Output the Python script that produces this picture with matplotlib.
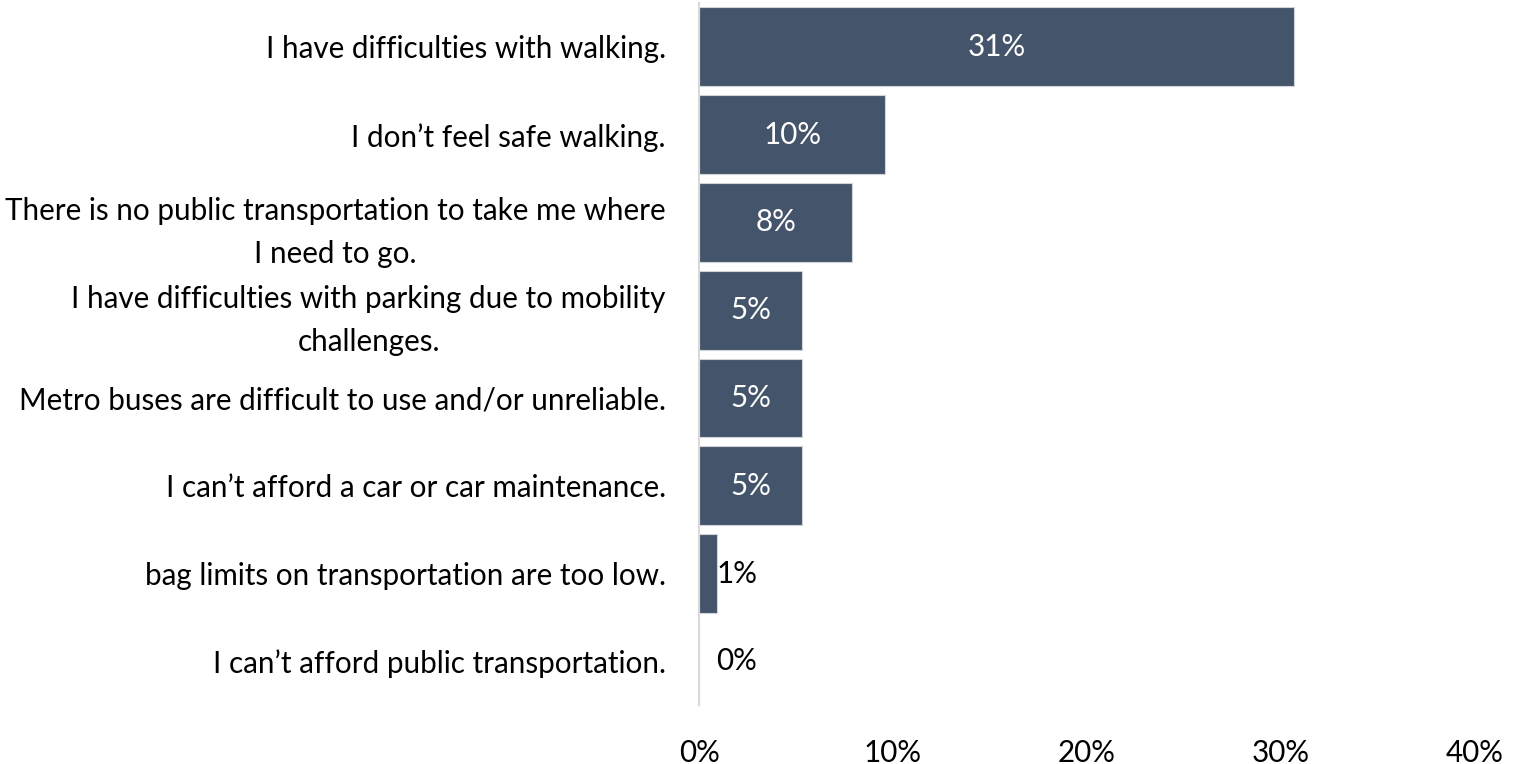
import matplotlib.pyplot as plt
from matplotlib.ticker import PercentFormatter

# Categories (top to bottom) and shares
categories = [
    'I have difficulties with walking.',
    'I don\u2019t feel safe walking.',
    'There is no public transportation to take me where\nI need to go.',
    'I have difficulties with parking due to mobility\nchallenges.',
    'Metro buses are difficult to use and/or unreliable.',
    'I can\u2019t afford a car or car maintenance.',
    'bag limits on transportation are too low.',
    'I can\u2019t afford public transportation.',
]
values = [0.307, 0.096, 0.079, 0.053, 0.053, 0.053, 0.009, 0.0]
labels = ['31%', '10%', '8%', '5%', '5%', '5%', '1%', '0%']

plt.rcParams['font.family'] = ['Lato', 'DejaVu Sans']
fs = 21.3

fig = plt.figure(figsize=(15.2, 7.64), dpi=100)
ax = fig.add_axes([0.46, 0.077, 0.51, 0.919])

y = list(range(len(categories)))
ax.barh(y, values, height=0.9, color='#44546A', edgecolor='#D0D5DC', linewidth=0.8)

# Data labels: centered white inside large bars, black outside small ones
for yi, v, lab in zip(y, values, labels):
    if v > 0.03:
        ax.text(v / 2, yi, lab, ha='center', va='center', color='white', fontsize=fs)
    else:
        ax.text(max(v, 0.0085), yi, lab, ha='left', va='center', color='black', fontsize=fs)

ax.set_yticks(y)
ax.set_yticklabels(categories, fontsize=fs, multialignment='center', linespacing=1.65)
ax.set_ylim(len(categories) - 0.5, -0.5)
ax.set_xlim(0, 0.4)
ax.set_xticks([0, 0.1, 0.2, 0.3, 0.4])
ax.xaxis.set_major_formatter(PercentFormatter(1.0, decimals=0))
ax.tick_params(axis='x', labelsize=fs, length=0, pad=24)
ax.tick_params(axis='y', length=0, pad=24)

for side in ['top', 'right', 'bottom']:
    ax.spines[side].set_visible(False)
ax.spines['left'].set_color('#D9D9D9')
ax.spines['left'].set_linewidth(1.5)

fig.savefig('out.png', dpi=100)
